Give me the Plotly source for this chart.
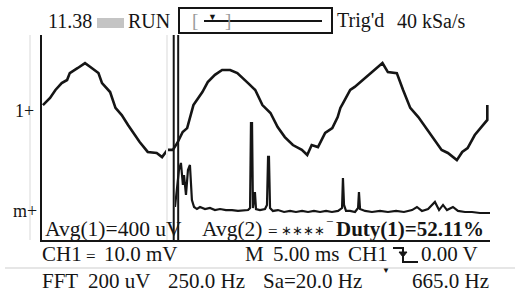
import plotly.graph_objects as go

W, H = 527, 295

# ---------------- data ----------------
# CH1 waveform: time (ms) and amplitude (mV)
wave_t = [0.1, 0.9, 1.5, 2.2, 2.8, 3.1, 4.0, 4.8, 5.4, 6.3, 6.7, 7.6, 8.2, 8.9, 9.6,
          10.2, 10.9, 11.8, 12.8, 13.4, 14.0, 14.6, 15.1, 15.7, 16.2, 16.9, 17.9, 18.5,
          19.3, 20.1, 21.0, 21.8, 22.3, 23.0, 23.8, 24.6, 25.5, 26.3, 27.1, 28.0, 29.0,
          29.6, 30.1, 30.8, 31.6, 32.4, 33.0, 33.3, 33.6, 34.0, 34.4, 34.9, 36.1, 36.9,
          38.0, 38.6, 39.6, 40.3, 41.1, 42.0, 43.0, 43.9, 44.6, 45.3, 46.3, 46.9, 47.5,
          48.3, 48.9, 49.4, 49.7, 49.7]
wave_mv = [2.7, 5.5, 8.6, 11.3, 12.5, 15.2, 17.2, 19.1, 17.6, 15.2, 11.3, 7.8, 1.6, -1.2,
           -5.1, -8.2, -11.7, -15.6, -16.0, -17.6, -14.8, -14.8, -12.1, -7.8, -6.3, 2.7,
           7.8, 11.7, 14.5, 16.4, 16.4, 15.2, 13.7, 11.3, 8.6, 2.7, -0.4, -5.9, -9.8,
           -12.9, -14.8, -16.8, -12.9, -13.7, -8.2, -6.3, -2.0, 1.6, 3.5, 5.9, 8.6, 9.8,
           13.3, 15.6, 19.1, 15.6, 15.2, 8.6, 1.6, -2.0, -7.0, -11.7, -14.8, -16.0,
           -18.8, -15.6, -14.1, -9.0, -6.3, -4.3, -3.1, 2.7]

# FFT trace: frequency (Hz) and magnitude (uV)
fft_hz = [0, 11, 22, 33, 44, 50, 61, 72, 83, 94, 106, 122, 139, 167, 194, 222, 250, 283,
          317, 350, 383, 406, 417, 422, 428, 433, 444, 450, 472, 500, 511, 517, 522, 528,
          544, 572, 606, 639, 672, 706, 739, 772, 806, 839, 872, 906, 928, 933, 939, 950,
          972, 1000, 1017, 1022, 1028, 1056, 1094, 1139, 1183, 1228, 1272, 1317, 1344,
          1372, 1406, 1444, 1467, 1489, 1511, 1544, 1572, 1611, 1650, 1694, 1750]
fft_uv = [47, 219, 336, 391, 219, 297, 141, 336, 375, 102, 47, 31, 47, 31, 39, 23, 31, 23,
          23, 16, 23, 23, 39, 703, 703, 39, 164, 31, 23, 31, 63, 438, 438, 39,
          16, 23, 8, 16, 8, 16, 8, 16, 8, 16, 8, 16, 39, 273, 63, 16,
          16, 8, 39, 164, 31, 16, 8, 16, 8, 16, 8, 23, 47,
          16, 31, 86, 23, 63, 23, 47, 16, 8, 8, 0, 0]

# cursor lines (ms)
cursor_ms = [14.7, 15.2]

# ---------------- helpers ----------------
def px(x):
    return x / W

def py(y):
    return 1 - y / H

FONT = "Liberation Serif, Times New Roman, serif"
INK = "#151515"

fig = go.Figure()
fig.add_trace(go.Scatter(x=wave_t, y=wave_mv, mode="lines",
                         line=dict(color=INK, width=2.6), xaxis="x", yaxis="y",
                         hoverinfo="skip", showlegend=False))
fig.add_trace(go.Scatter(x=fft_hz, y=fft_uv, mode="lines",
                         line=dict(color=INK, width=2.2), xaxis="x2", yaxis="y2",
                         hoverinfo="skip", showlegend=False))

ydom = [py(240), py(35)]
fig.update_layout(
    width=W, height=H,
    margin=dict(l=0, r=0, t=0, b=0),
    paper_bgcolor="white", plot_bgcolor="rgba(0,0,0,0)",
    showlegend=False,
    xaxis=dict(domain=[px(42), px(490)], range=[0, 50], showgrid=False, zeroline=False,
               showticklabels=False, ticks="", showline=True, linecolor=INK, linewidth=2,
               anchor="y"),
    yaxis=dict(domain=ydom, range=[-50, 30.08], showgrid=False, zeroline=False,
               showticklabels=False, ticks="", showline=True, linecolor=INK, linewidth=2,
               anchor="x"),
    xaxis2=dict(domain=[px(175), px(490)], range=[0, 1750], visible=False, anchor="y2"),
    yaxis2=dict(domain=ydom, range=[-211, 1391], visible=False, anchor="x2"),
)

shapes = []
# cursor lines
for c in cursor_ms:
    shapes.append(dict(type="line", xref="x", yref="paper", x0=c, x1=c,
                       y0=py(240), y1=py(35), line=dict(color=INK, width=2)))
# faint ghost lines
for gx in [30, 167]:
    shapes.append(dict(type="line", xref="paper", yref="paper", x0=px(gx), x1=px(gx),
                       y0=py(240), y1=py(35), line=dict(color="#ececec", width=2)))
# separator
shapes.append(dict(type="line", xref="paper", yref="paper", x0=px(5), x1=px(515),
                   y0=py(268), y1=py(268), line=dict(color="#e6e6e6", width=2)))
# top trigger box
shapes.append(dict(type="rect", xref="paper", yref="paper", x0=px(179), x1=px(332),
                   y0=py(33), y1=py(8), line=dict(color=INK, width=2)))
shapes.append(dict(type="line", xref="paper", yref="paper", x0=px(204), x1=px(322),
                   y0=py(21), y1=py(21), line=dict(color=INK, width=2)))
# status icon
shapes.append(dict(type="rect", xref="paper", yref="paper", x0=px(97), x1=px(124),
                   y0=py(28), y1=py(18), line=dict(width=0), fillcolor="#c4c4c4"))
# trigger edge symbol
path = "M {} {} L {} {} L {} {} L {} {}".format(px(393), py(248), px(403), py(248),
                                                 px(403), py(262), px(418), py(262))
shapes.append(dict(type="path", xref="paper", yref="paper", path=path,
                   line=dict(color=INK, width=2)))
tri = "M {} {} L {} {} L {} {} Z".format(px(399), py(252), px(407), py(252), px(403), py(257))
shapes.append(dict(type="path", xref="paper", yref="paper", path=tri,
                   fillcolor=INK, line=dict(color=INK, width=1)))
fig.update_layout(shapes=shapes)

labels = [
    ("11.38", 46, 21, 20, INK, False),
    ("RUN", 126, 21, 20, INK, False),
    ("[", 190, 21, 19, "#9a9a9a", False),
    ("]", 223, 21, 19, "#9a9a9a", False),
    ("▼", 206, 17, 9, INK, False),
    ("Trig'd", 335, 21, 20, INK, False),
    ("40 kSa/s", 395, 21, 20, INK, False),
    ("1+", 13, 111, 18, INK, False),
    ("m+", 11, 211, 18, INK, False),
    ("Avg(1)=400 uV", 43, 229, 21.5, INK, False),
    ("Avg(2)", 200, 229, 21.5, INK, False),
    ("=", 266, 231, 17, INK, False),
    ("∗∗∗∗", 279, 231, 12.5, INK, False),
    ("−", 324, 221, 13, INK, False),
    ("Duty(1)=52.11%", 334, 229, 21, INK, True),
    ("CH1", 40, 254, 21, INK, False),
    ("=", 84, 256, 17, INK, False),
    ("10.0 mV", 102, 254, 21, INK, False),
    ("M", 243, 254, 21, INK, False),
    ("5.00 ms", 271, 254, 21, INK, False),
    ("CH1", 346, 254, 21, INK, False),
    ("0.00 V", 419, 254, 21, INK, False),
    ("FFT", 40, 281, 21, INK, False),
    ("200 uV", 86, 281, 21, INK, False),
    ("250.0 Hz", 166, 281, 21, INK, False),
    ("Sa=20.0 Hz", 261, 281, 21, INK, False),
    ("▼", 380, 270, 8, INK, False),
    ("665.0 Hz", 410, 281, 21, INK, False),
]
ann = []
for text, x, y, size, col, bold in labels:
    ann.append(dict(text=("<b>%s</b>" % text) if bold else text,
                    xref="paper", yref="paper", x=px(x), y=py(y),
                    xanchor="left", yanchor="middle", showarrow=False,
                    font=dict(family=FONT, size=size, color=col)))
fig.update_layout(annotations=ann)

fig.write_html("out.html", config={"displayModeBar": False},
               post_script="document.body.style.margin='0';document.body.style.overflow='hidden';")
